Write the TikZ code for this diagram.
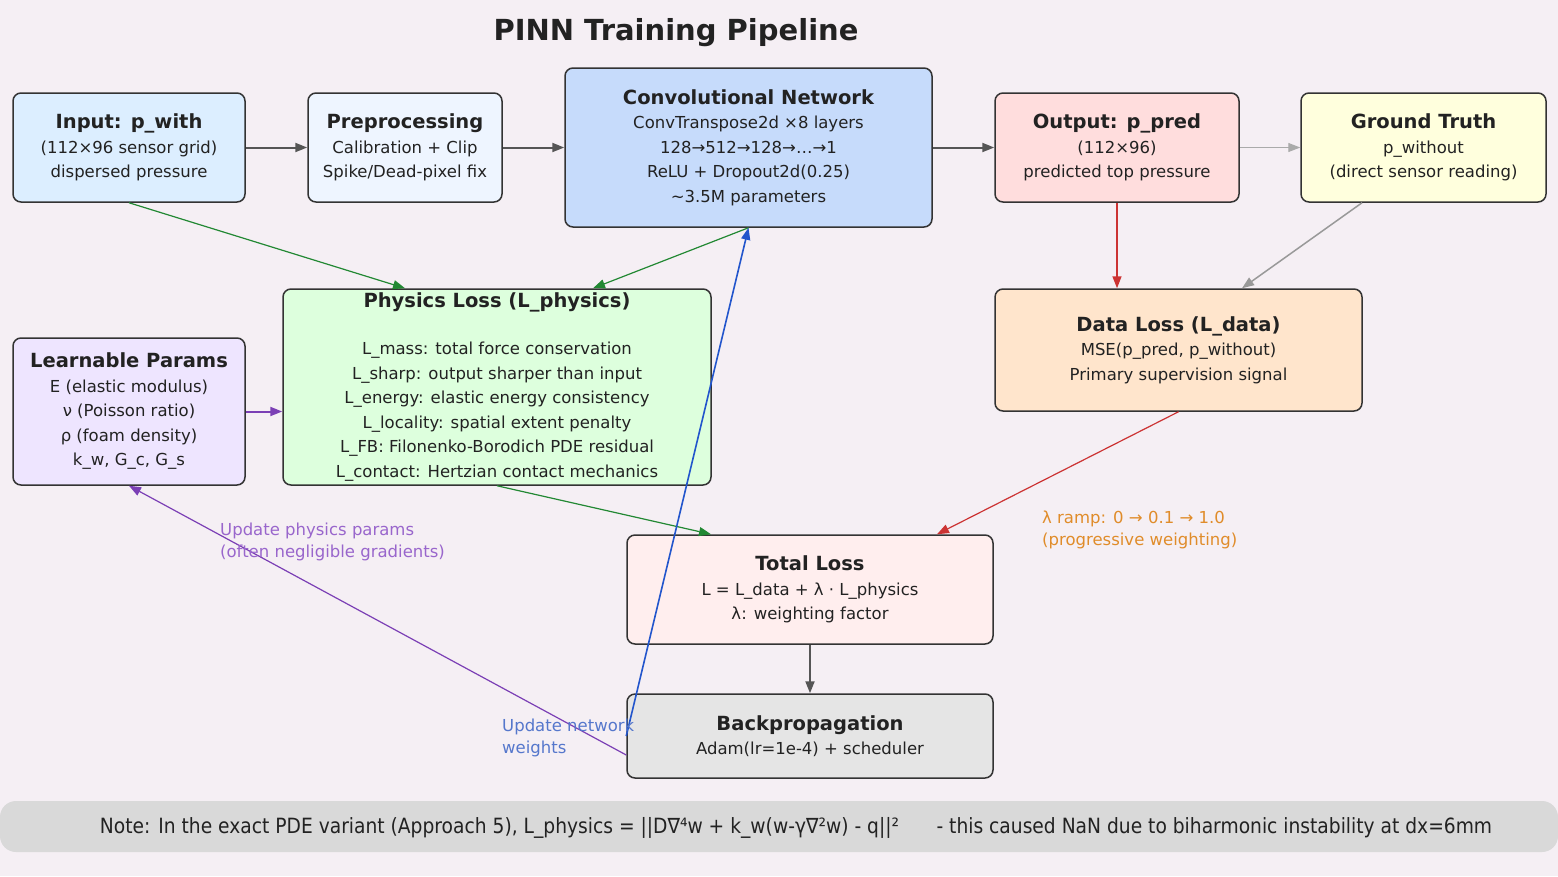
\documentclass[tikz,border=0pt]{standalone}
\usepackage{fontspec}
\usepackage{graphicx}
\setmainfont{DejaVu Sans}
\newfontfamily\notefont{DejaVu Sans}
\usetikzlibrary{arrows.meta}
\definecolor{bg}{HTML}{F5EFF4}
\definecolor{boxline}{HTML}{333333}
\definecolor{txt}{HTML}{222222}
\definecolor{cin}{HTML}{DCEEFF}
\definecolor{cpre}{HTML}{EEF5FF}
\definecolor{cconv}{HTML}{C6DBFB}
\definecolor{cout}{HTML}{FFDDDD}
\definecolor{cgt}{HTML}{FFFFDD}
\definecolor{cphys}{HTML}{DDFFDD}
\definecolor{clearn}{HTML}{EEE5FF}
\definecolor{cdata}{HTML}{FFE5CC}
\definecolor{ctot}{HTML}{FFEEEE}
\definecolor{cback}{HTML}{E5E5E5}
\definecolor{cnote}{HTML}{D9D9D9}
\definecolor{agray}{HTML}{555555}
\definecolor{alight}{HTML}{AAAAAA}
\definecolor{amid}{HTML}{999999}
\definecolor{ared}{HTML}{CC3333}
\definecolor{agreen}{HTML}{228833}
\definecolor{apurple}{HTML}{7B3FB5}
\definecolor{ablue}{HTML}{2255CC}
\definecolor{lpurple}{HTML}{9966CC}
\definecolor{lblue}{HTML}{5577CC}
\definecolor{lorange}{HTML}{E08C2A}
\newcommand\boxtitle[1]{{\fontsize{19.5}{24.5}\selectfont\bfseries #1}}
\begin{document}
\begin{tikzpicture}[x=1pt,y=-1pt,
  box/.style={draw=boxline, line width=1.5pt, rounded corners=8pt, inner sep=0pt,
    align=center, text=txt, font=\fontsize{16.5}{24.5}\selectfont},
  arr/.style={-{Triangle[length=12pt,width=9pt]}, line width=#1},
  arr/.default=2pt,
  lbl/.style={inner sep=0pt, align=left, anchor=north west, font=\fontsize{16.5}{22}\selectfont}]
\useasboundingbox (0,0) rectangle (1558,876);
\fill[bg] (0,0) rectangle (1558,876);

\node[font=\fontsize{29}{34}\selectfont\bfseries, text=txt, inner sep=0pt] (title) at (676,33) {PINN Training Pipeline};

\node[box, fill=cin, minimum width=232pt, minimum height=109pt] (inp) at (129,147.5)
  {\boxtitle{Input: p\_with}\\(112×96 sensor grid)\\dispersed pressure};
\node[box, fill=cpre, minimum width=194pt, minimum height=109pt] (pre) at (405,147.5)
  {\boxtitle{Preprocessing}\\Calibration + Clip\\Spike/Dead-pixel fix};
\node[box, fill=cconv, minimum width=367pt, minimum height=159pt] (conv) at (748.5,147.5)
  {\boxtitle{Convolutional Network}\\ConvTranspose2d ×8 layers\\128→512→128→…→1\\ReLU + Dropout2d(0.25)\\\textasciitilde3.5M parameters};
\node[box, fill=cout, minimum width=244pt, minimum height=109pt] (out) at (1117,147.5)
  {\boxtitle{Output: p\_pred}\\(112×96)\\predicted top pressure};
\node[box, fill=cgt, minimum width=245pt, minimum height=109pt] (gt) at (1423.5,147.5)
  {\boxtitle{Ground Truth}\\p\_without\\(direct sensor reading)};
\node[box, fill=cphys, minimum width=428pt, minimum height=196pt] (phys) at (497,387)
  {\boxtitle{Physics Loss (L\_physics)}\\[22.5pt]L\_mass: total force conservation\\L\_sharp: output sharper than input\\L\_energy: elastic energy consistency\\L\_locality: spatial extent penalty\\L\_FB: Filonenko-Borodich PDE residual\\L\_contact: Hertzian contact mechanics};
\node[box, fill=clearn, minimum width=232pt, minimum height=147pt] (learn) at (129,411.5)
  {\boxtitle{Learnable Params}\\E (elastic modulus)\\ν (Poisson ratio)\\ρ (foam density)\\k\_w, G\_c, G\_s};
\node[box, fill=cdata, minimum width=367pt, minimum height=122pt] (data) at (1178.5,350)
  {\boxtitle{Data Loss (L\_data)}\\MSE(p\_pred, p\_without)\\Primary supervision signal};
\node[box, fill=ctot, minimum width=366pt, minimum height=109pt] (tot) at (810,589.5)
  {\boxtitle{Total Loss}\\L = L\_data + λ · L\_physics\\λ: weighting factor};
\node[box, fill=cback, minimum width=366pt, minimum height=84pt] (back) at (810,736)
  {\boxtitle{Backpropagation}\\Adam(lr=1e-4) + scheduler};

% main flow
\draw[arr, agray] (inp.east) -- (pre.west);
\draw[arr, agray] (pre.east) -- (conv.west |- pre.east);
\draw[arr, agray] (conv.east |- out.west) -- (out.west);
\draw[arr=1pt, alight] (out.east) -- (gt.west);
\draw[arr=1.5pt, ared] (out.south) -- (out.south |- data.north);
\draw[arr=1.5pt, amid] ([xshift=-61.5pt]gt.south) -- ([xshift=63.5pt]data.north);
\draw[arr=1.2pt, agreen] (inp.south) -- ([xshift=-92pt]phys.north);
\draw[arr=1.2pt, agreen] (conv.south) -- ([xshift=96pt]phys.north);
\draw[arr, apurple] (learn.east) -- (learn.east -| phys.west);
\draw[arr=1.2pt, agreen] (phys.south) -- ([xshift=-99pt]tot.north);
\draw[arr=1.2pt, ared] (data.south) -- ([xshift=127pt]tot.north);
\draw[arr, agray] (tot.south) -- (back.north);
\draw[arr=1.2pt, apurple] ([yshift=-19pt]back.west) -- (learn.south);
\draw[arr=1.6pt, ablue] (back.west) -- (conv.south);

% labels
\node[lbl, text=lpurple] (lphys) at (220,523) {Update physics params\\(often negligible gradients)};
\node[lbl, text=lblue] (lnet) at (502,719) {Update network\\weights};
\node[lbl, text=lorange] (lramp) at (1042,511) {λ ramp: 0 → 0.1 → 1.0\\(progressive weighting)};

% note
\fill[cnote, rounded corners=16pt] (0,801) rectangle (1558,852);
\node[inner sep=0pt, text=txt] (note) at (796,828)
  {\resizebox{1392pt}{\height}{\notefont\fontsize{21}{25}\selectfont Note: In the exact PDE variant (Approach 5), L\_physics = ||D∇⁴w + k\_w(w-γ∇²w) - q||²\quad\quad - this caused NaN due to biharmonic instability at dx=6mm}};
\end{tikzpicture}
\end{document}
